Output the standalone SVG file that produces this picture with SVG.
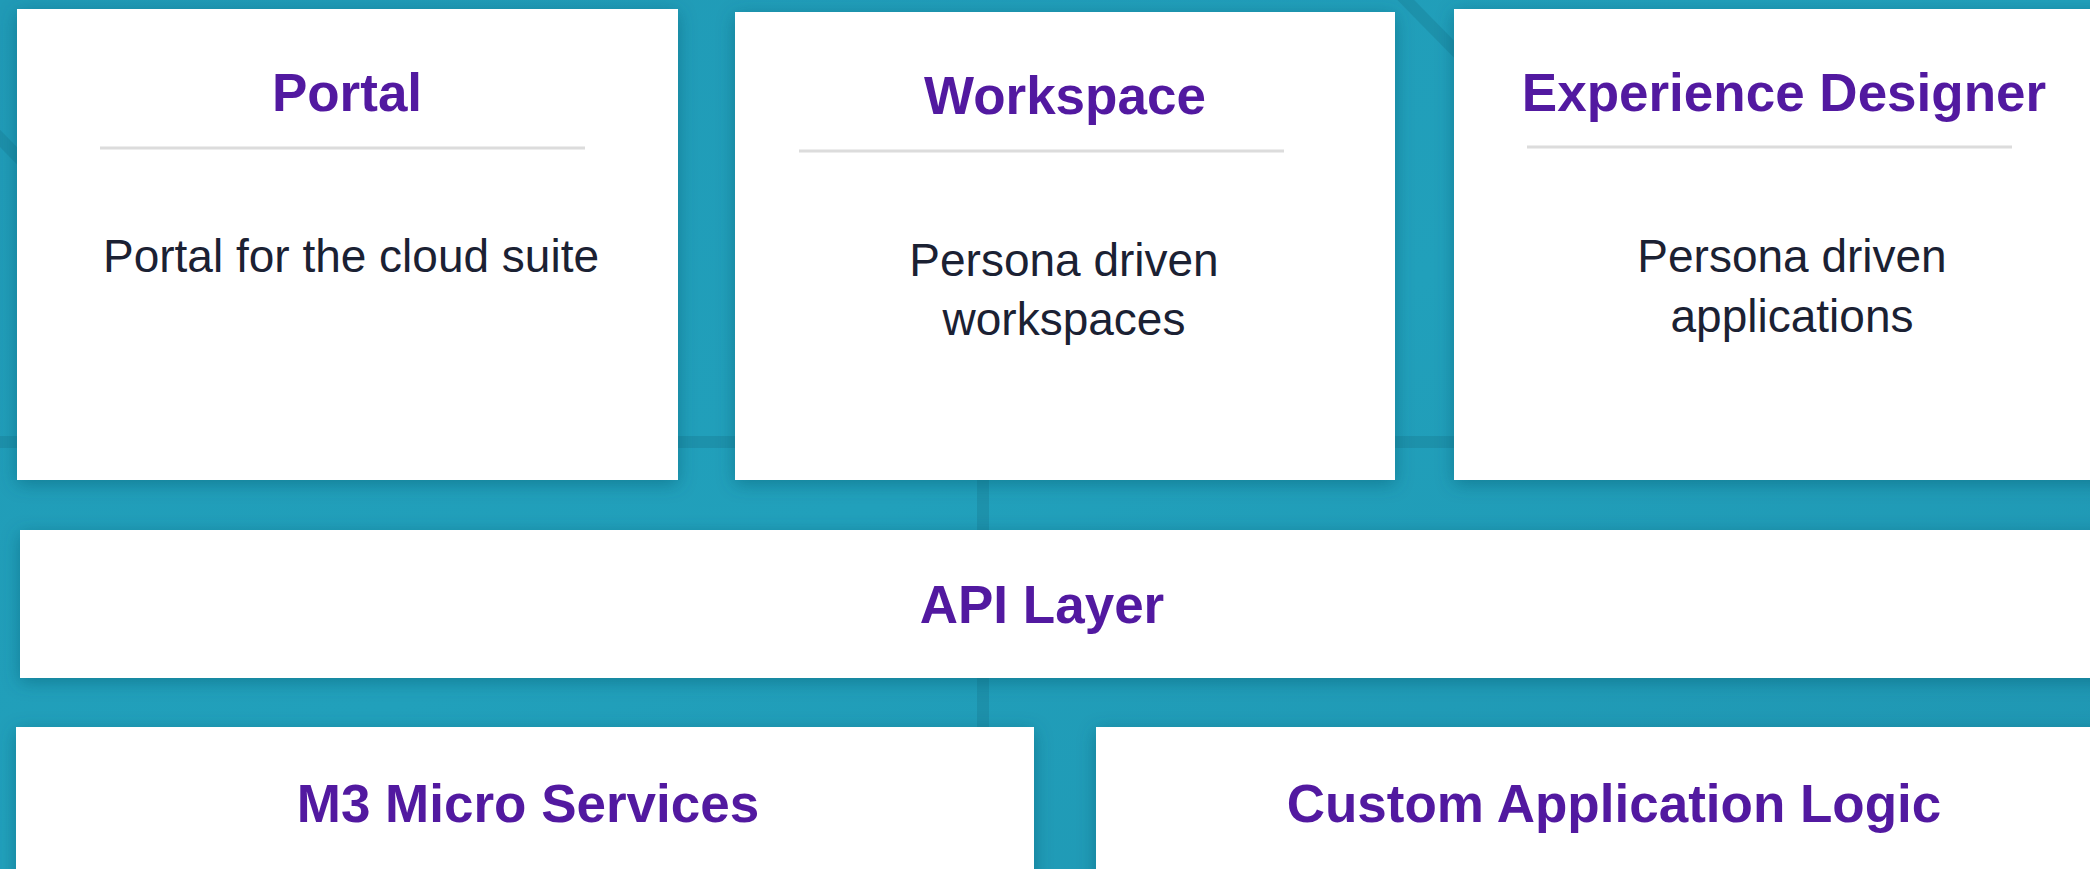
<svg xmlns="http://www.w3.org/2000/svg" width="2090" height="869" viewBox="0 0 2090 869">
  <defs>
    <linearGradient id="bg" x1="0" y1="0" x2="1" y2="1">
      <stop offset="0" stop-color="#209ab6"/>
      <stop offset="0.5" stop-color="#21a0bb"/>
      <stop offset="1" stop-color="#1f96b2"/>
    </linearGradient>
    <filter id="shadow" x="-10%" y="-10%" width="120%" height="130%">
      <feDropShadow dx="0" dy="4" stdDeviation="9" flood-color="#0b5468" flood-opacity="0.45"/>
    </filter>
    <style>
      .box { fill: #ffffff; filter: url(#shadow); }
      .title { font-family: "Liberation Sans", Arial, sans-serif; font-weight: bold; font-size: 53px; fill: #5219a0; text-anchor: middle; }
      .body { font-family: "Liberation Sans", Arial, sans-serif; font-size: 46px; fill: #1b2133; text-anchor: middle; }
      .sep { stroke: #dcdcdc; stroke-width: 3; }
      .bgline { stroke: #17788f; stroke-opacity: 0.35; stroke-width: 12; fill: none; }
    </style>
  </defs>

  <rect x="0" y="0" width="2090" height="869" fill="url(#bg)"/>
  <g id="background-lines">
    <line class="bgline" x1="0" y1="442" x2="2090" y2="442"/>
    <line class="bgline" x1="983" y1="430" x2="983" y2="869"/>
    <line class="bgline" x1="-20" y1="118" x2="70" y2="210"/>
    <line class="bgline" x1="1392" y1="-14" x2="1500" y2="96"/>
  </g>

  <g id="portal">
    <rect class="box" x="17" y="9" width="661" height="471"/>
    <text class="title" x="347" y="111">Portal</text>
    <line class="sep" x1="100" y1="148" x2="585" y2="148"/>
    <text class="body" x="351" y="272">Portal for the cloud suite</text>
  </g>

  <g id="workspace">
    <rect class="box" x="735" y="12" width="660" height="468"/>
    <text class="title" x="1065" y="114">Workspace</text>
    <line class="sep" x1="799" y1="151" x2="1284" y2="151"/>
    <text class="body" x="1064" y="276">Persona driven</text>
    <text class="body" x="1064" y="335">workspaces</text>
  </g>

  <g id="experience-designer">
    <rect class="box" x="1454" y="9" width="660" height="471"/>
    <text class="title" x="1784" y="111">Experience Designer</text>
    <line class="sep" x1="1527" y1="147" x2="2012" y2="147"/>
    <text class="body" x="1792" y="272">Persona driven</text>
    <text class="body" x="1792" y="332">applications</text>
  </g>

  <g id="api-layer">
    <rect class="box" x="20" y="530" width="2100" height="148"/>
    <text class="title" x="1042" y="623">API Layer</text>
  </g>

  <g id="m3-micro-services">
    <rect class="box" x="16" y="727" width="1018" height="170"/>
    <text class="title" x="528" y="822">M3 Micro Services</text>
  </g>

  <g id="custom-application-logic">
    <rect class="box" x="1096" y="727" width="1018" height="170"/>
    <text class="title" x="1614" y="822">Custom Application Logic</text>
  </g>

  <g id="connectors"/>
</svg>
